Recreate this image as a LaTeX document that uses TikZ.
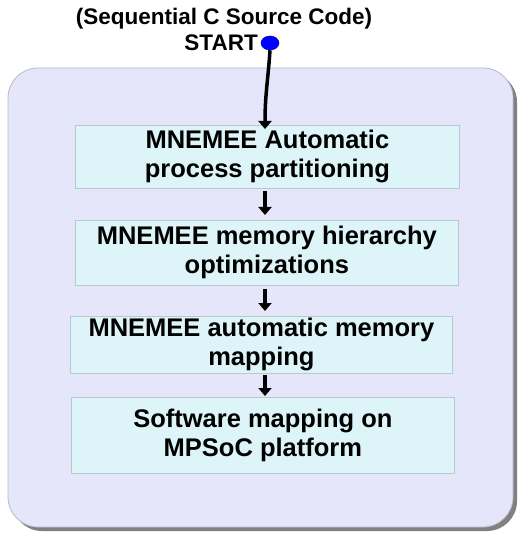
\documentclass[tikz,border=0pt]{standalone}
\usepackage{fontspec}
\setmainfont{Liberation Sans}
\usetikzlibrary{arrows.meta,shapes.geometric}
\definecolor{panel}{HTML}{E6E6FA}
\definecolor{panelline}{HTML}{B8B8D0}
\definecolor{boxfill}{HTML}{DDF4F8}
\definecolor{boxline}{HTML}{B8C8CC}
\definecolor{shadowc}{HTML}{808080}
\begin{document}
\begin{tikzpicture}[x=1pt,y=-1pt,
  stepbox/.style={draw=boxline, line width=0.8pt, fill=boxfill, align=center,
    font=\fontsize{25.5}{29}\selectfont\bfseries, inner sep=0pt, anchor=north west},
  lbl/.style={font=\fontsize{22.5}{26}\selectfont\bfseries, inner sep=0pt},
  flow/.style={line width=3.5pt, -{Triangle[length=8pt,width=13pt]}}]
\useasboundingbox (0,0) rectangle (521,534);
% panel
\fill[shadowc, rounded corners=30pt] (12,72) rectangle (517,531);
\draw[panelline, fill=panel, rounded corners=30pt, line width=0.8pt] (8,68) rectangle (513,527);
% boxes
\node[stepbox, minimum width=384pt, minimum height=63pt] (b1) at (75,125) {MNEMEE Automatic\\process partitioning};
\node[stepbox, minimum width=383pt, minimum height=65pt] (b2) at (75,220) {MNEMEE memory hierarchy\\optimizations};
\node[stepbox, minimum width=382pt, minimum height=57pt] (b3) at (70,316) {\raisebox{-2pt}{MNEMEE automatic memory}\\\raisebox{-2pt}{mapping}};
\node[stepbox, minimum width=383pt, minimum height=76pt] (b4) at (71,397) {Software mapping on\\MPSoC platform};
% start
\node[fill=blue, draw=blue!70!black, line width=0.5pt, ellipse, minimum width=18pt, minimum height=14pt, inner sep=0pt] (st) at (270,43) {};
\node[lbl, anchor=east] (stl) at (258,43) {START};
\node[lbl] (src) at (224,19) {(Sequential C Source Code)};
% arrows
\coordinate (ax) at (265,0);
\draw[flow] (st.south) .. controls (268,80) and (265,95) .. ([yshift=-4pt]b1.north -| ax);
\draw[flow, shorten <=2pt, shorten >=5pt] (b1.south -| ax) -- (b2.north -| ax);
\draw[flow, shorten <=3pt, shorten >=5pt] (b2.south -| ax) -- (b3.north -| ax);
\draw[flow, shorten <=1pt, shorten >=1pt] (b3.south -| ax) -- (b4.north -| ax);
\end{tikzpicture}
\end{document}
